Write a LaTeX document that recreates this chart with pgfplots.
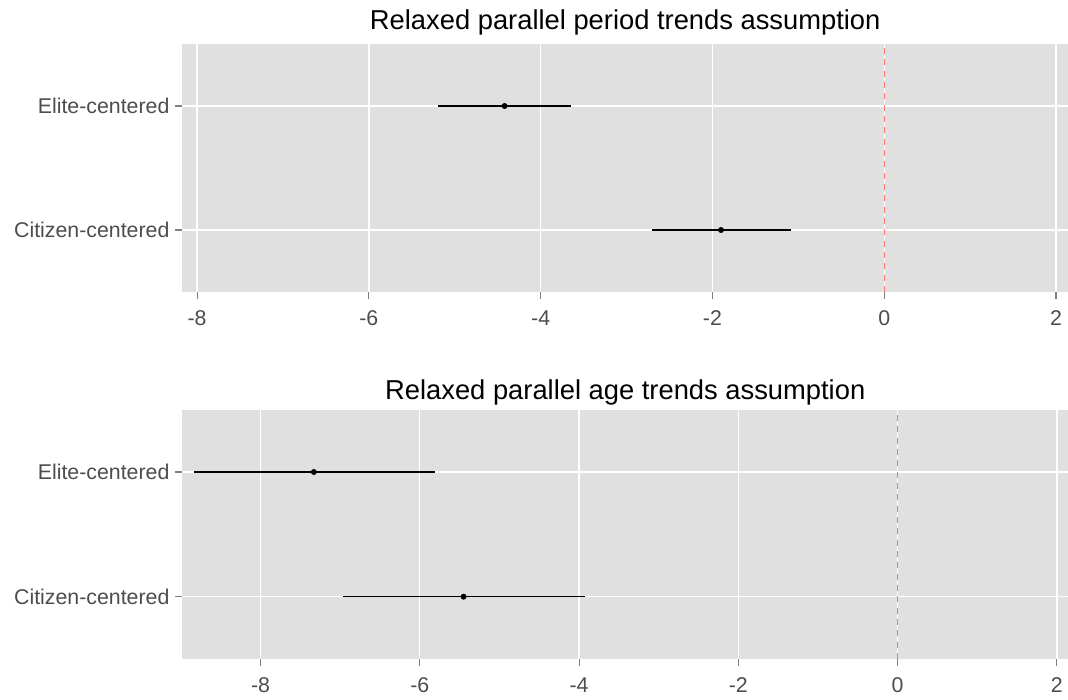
\documentclass[border=0pt]{standalone}
\usepackage{pgfplots}
\pgfplotsset{compat=1.18}
\usepackage{fontspec}
\setmainfont{Liberation Sans}
\definecolor{panelbg}{RGB}{224,224,224}
\definecolor{ticktext}{RGB}{77,77,77}
\definecolor{tickcol}{RGB}{127,127,127}
\definecolor{refred}{RGB}{248,118,109}

\pgfplotsset{
  forest/.style={
    scale only axis,
    width=664.125pt,
    xmax=2.14,
    ymin=0.5, ymax=2.5,
    xtick={-8,-6,-4,-2,0,2},
    ytick={1,2},
    yticklabels={Citizen-centered,Elite-centered},
    axis line style={draw=none},
    axis background/.style={fill=panelbg},
    grid=major,
    major grid style={white, line width=1pt},
    tick pos=left,
    tick align=outside,
    major tick length=5.25pt,
    tick style={tickcol, line width=0.8pt},
    ticklabel style={font=\fontsize{16}{19}\selectfont, text=ticktext},
    /pgf/number format/assume math mode=true,
    xticklabel style={yshift=-5pt},
    yticklabel style={xshift=-1pt},
    title style={font=\fontsize{20.5}{24}\selectfont, text=black, at={(0.5,1)}, anchor=base, yshift=4.5pt},
    clip=false,
  }
}

\begin{document}
\begin{tikzpicture}
\useasboundingbox (-136.875pt,-306pt) rectangle (664.125pt,219pt);

% Top panel
\begin{axis}[forest, name=top, at={(0,0)}, anchor=south west,
  height=186pt, xmin=-8.17,
  title={Relaxed parallel period trends assumption}]
  \addplot[refred, line width=0.8pt, dash pattern=on 4.5pt off 4pt] coordinates {(0,0.5) (0,2.5)};
  % Elite-centered CI
  \addplot[black, line width=0.9pt] coordinates {(-5.19,2) (-3.65,2)};
  % Citizen-centered CI
  \addplot[black, line width=0.9pt] coordinates {(-2.70,1) (-1.09,1)};
  \addplot[only marks, mark=*, mark size=2pt, black] coordinates {(-4.42,2) (-1.90,1)};
\end{axis}

% Bottom panel
\begin{axis}[forest, name=bottom, at={(0,-275.25pt)}, anchor=south west,
  height=187pt, xmin=-8.98,
  title={Relaxed parallel age trends assumption}, title style={yshift=-3pt}]
  \addplot[refred, line width=0.8pt, dash pattern=on 4.5pt off 4pt] coordinates {(0,0.5) (0,2.5)};
  \addplot[black, line width=0.9pt] coordinates {(-8.83,2) (-5.81,2)};
  \addplot[black, line width=0.9pt] coordinates {(-6.96,1) (-3.92,1)};
  \addplot[only marks, mark=*, mark size=2pt, black] coordinates {(-7.33,2) (-5.45,1)};
\end{axis}
\end{tikzpicture}
\end{document}
